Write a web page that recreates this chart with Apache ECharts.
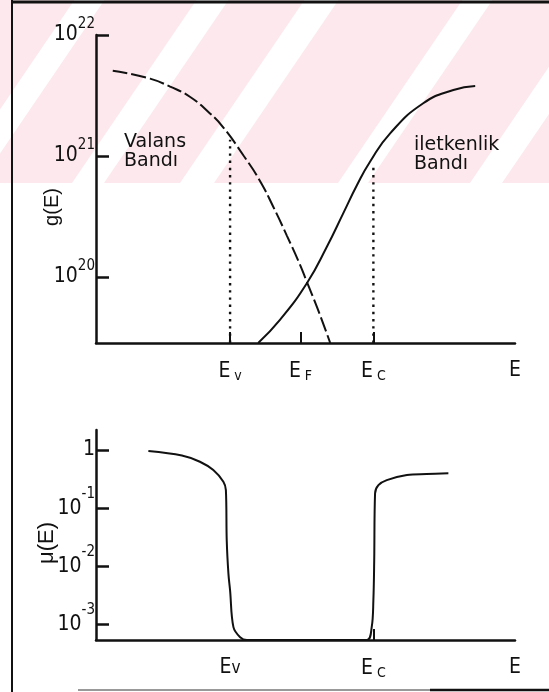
<!DOCTYPE html>
<html>
<head>
<meta charset="utf-8">
<script src="https://cdn.jsdelivr.net/npm/echarts@6/dist/echarts.min.js"></script>
<style>
  html, body { margin: 0; padding: 0; background: #fff; }
  #chart { width: 549px; height: 692px; }
</style>
</head>
<body>
<div id="chart"></div>
<script>
// Energy scale (arbitrary units, 0 … 100) and the marked levels
const E_V = 32, E_F = 48.8, E_C = 66.2, E_MAX = 100;

// Density of states g(E): valence band (dashed) and conduction band (solid)
const valenceE = [4.0, 12.9, 17.7, 22.4, 27.2, 30.4, 35.2, 39.0, 42.3, 45.6, 48.7, 50.4, 52.7, 55.9];
const valenceG = [5.07e21, 4.36e21, 3.74e21, 3.09e21, 2.25e21, 1.72e21, 1.01e21, 6.34e20, 3.81e20, 2.18e20, 1.26e20, 8.97e19, 5.69e19, 2.85e19];
const conductionE = [38.7, 43.9, 50.4, 55.1, 59.0, 62.3, 65.4, 70.2, 78.1, 85.3, 90.5];
const conductionG = [2.85e19, 4.42e19, 8.97e19, 1.78e20, 3.36e20, 5.76e20, 8.97e20, 1.54e21, 2.73e21, 3.51e21, 3.79e21];

// Dotted markers at the band edges: energy and the g value where each stops
const edgeE = [E_V, E_C];
const edgeTop = [1.36e21, 8.3e20];

const gMin = 2.85e19, gMax = 1e22;
const gTicks = [1e20, 1e21, 1e22];

// Mobility μ(E)
const muE = [12.5, 20.5, 24.8, 28.0, 30.4, 31.0, 31.2, 31.6, 32.0, 32.8, 34.4, 36.0,
             64.6, 65.8, 66.2, 66.4, 66.6, 67.4, 69.4, 74.2, 78.9, 84.1];
const muVal = [0.961, 0.804, 0.629, 0.452, 0.284, 0.204, 0.0281, 0.00757, 0.00386, 0.000898, 0.000604, 0.00054,
               0.00054, 0.000898, 0.0026, 0.0127, 0.179, 0.249, 0.304, 0.371, 0.386, 0.397];
const muMin = 5.4e-4, muMax = 2.21;
const muTicks = [1e-3, 1e-2, 1e-1, 1];

const INK = '#111';
const COND = '"DejaVu Sans Condensed", "Liberation Sans Narrow", sans-serif';
const SANS = '"Liberation Sans", Arial, sans-serif';

function pairs(xs, ys) { return xs.map((x, i) => [x, ys[i]]); }

function powerLabel(v) {
  const n = Math.round(Math.log10(v));
  if (n === 0) return '{b|1}';
  return '{b|10}{s|' + n + '}';
}

// Tick texts along the energy axes
const topEnergyText = {};
topEnergyText[E_V] = '{e|E}{sub|v}';
topEnergyText[E_F] = '{e|E}{sub|F}';
topEnergyText[E_C] = '{e|E}{sub|C}';
topEnergyText[E_MAX] = '{e|E}';
const bottomEnergyText = {};
bottomEnergyText[E_V] = '{e|E}{low|v}';
bottomEnergyText[E_C] = '{e|E}{sub|C}';
bottomEnergyText[E_MAX] = '{e|E}';

const energyRich = {
  e: { fontFamily: COND, fontSize: 21, color: INK },
  sub: { fontFamily: COND, fontSize: 14, color: INK, padding: [9, 0, 0, 4] },
  low: { fontFamily: COND, fontSize: 17, color: INK, padding: [3, 0, 0, 0] }
};

function energyAxis(gridIndex, tickValues, labelValues, texts) {
  return {
    type: 'value', gridIndex, min: 0, max: E_MAX,
    axisLine: { show: true, lineStyle: { color: INK, width: 2.5 } },
    axisTick: { show: true, inside: true, length: 11, customValues: tickValues, lineStyle: { color: INK, width: 2 } },
    axisLabel: {
      show: true, customValues: labelValues, margin: 17,
      formatter: v => texts[v] || '', rich: energyRich
    },
    splitLine: { show: false }
  };
}

function logAxis(gridIndex, min, max, ticks, margin, supLift) {
  return {
    type: 'log', logBase: 10, gridIndex, min, max,
    axisLine: { show: true, lineStyle: { color: INK, width: 2.5 } },
    axisTick: { show: true, inside: true, length: 13, customValues: ticks, lineStyle: { color: INK, width: 2.5 } },
    axisLabel: {
      show: true, customValues: ticks, margin, formatter: powerLabel,
      rich: {
        b: { fontFamily: COND, fontSize: 21, color: INK },
        s: { fontFamily: COND, fontSize: 15, color: INK, padding: [0, 0, supLift, 0] }
      }
    },
    splitLine: { show: false }
  };
}

// Faint pink diagonal-striped band across the top of the sheet
function stripeBand() {
  const els = [{
    type: 'rect', z: -20, silent: true,
    shape: { x: 0, y: 0, width: 549, height: 183 },
    style: { fill: '#fde8ed' }
  }];
  const slope = 0.68, h = 183;
  [[-50, 30], [72, 32], [180, 34], [338, 30], [470, 32]].forEach(([x0, w]) => {
    els.push({
      type: 'polygon', z: -19, silent: true,
      shape: { points: [[x0, h], [x0 + w, h], [x0 + w + slope * h, 0], [x0 + slope * h, 0]] },
      style: { fill: '#ffffff' }
    });
  });
  return els;
}

function frame() {
  const line = (x1, y1, x2, y2, wdt, col) => ({
    type: 'line', z: 30, silent: true,
    shape: { x1, y1, x2, y2 }, style: { stroke: col || INK, lineWidth: wdt }
  });
  return [
    line(12, 0, 12, 692, 2),
    line(12, 2, 549, 2, 3),
    line(78, 690, 430, 690, 1.5, '#777'),
    line(430, 690, 549, 690, 2.5)
  ];
}

function caption(text, x, y, font, size, rotate, align) {
  return {
    type: 'text', z: 40, silent: true, x, y, rotation: rotate ? Math.PI / 2 : 0,
    style: {
      text, fill: INK, fontFamily: font, fontSize: size,
      align: align || 'center', verticalAlign: 'middle', lineHeight: 19
    }
  };
}

const chart = echarts.init(document.getElementById('chart'), null, { renderer: 'canvas' });

chart.setOption({
  backgroundColor: '#ffffff',
  animation: false,
  graphic: [
    ...stripeBand(),
    ...frame(),
    caption('Valans\nBandı', 124, 152, '"DejaVu Sans", sans-serif', 19, false, 'left'),
    caption('iletkenlik\nBandı', 414, 155, '"DejaVu Sans", sans-serif', 19, false, 'left'),
    caption('g(E)', 52, 207, SANS, 20, true),
    caption('μ(E)', 47, 543, SANS, 22, true)
  ],
  grid: [
    { left: 96, top: 35, width: 419, height: 308 },
    { left: 96, top: 430, width: 419, height: 210 }
  ],
  xAxis: [
    energyAxis(0, [E_V, E_F, E_C], [E_V, E_F, E_C, E_MAX], topEnergyText),
    energyAxis(1, [E_C], [E_V, E_C, E_MAX], bottomEnergyText)
  ],
  yAxis: [
    logAxis(0, gMin, gMax, gTicks, 1, 22),
    logAxis(1, muMin, muMax, muTicks, 1, 28)
  ],
  series: [
    {
      name: 'Valans Bandı', type: 'line', xAxisIndex: 0, yAxisIndex: 0,
      data: pairs(valenceE, valenceG), showSymbol: false, smooth: 0.5,
      lineStyle: { color: INK, width: 2, type: [15, 4] }
    },
    {
      name: 'iletkenlik Bandı', type: 'line', xAxisIndex: 0, yAxisIndex: 0,
      data: pairs(conductionE, conductionG), showSymbol: false, smooth: 0.5,
      lineStyle: { color: INK, width: 2 }
    },
    ...edgeE.map((e, i) => ({
      type: 'line', xAxisIndex: 0, yAxisIndex: 0,
      data: [[e, gMin], [e, edgeTop[i]]], showSymbol: false,
      lineStyle: { color: INK, width: 2.4, type: [2.4, 4.8] }
    })),
    {
      name: 'μ(E)', type: 'line', xAxisIndex: 1, yAxisIndex: 1,
      data: pairs(muE, muVal), showSymbol: false, smooth: 0.35,
      lineStyle: { color: INK, width: 2 }
    }
  ]
});
</script>
</body>
</html>
